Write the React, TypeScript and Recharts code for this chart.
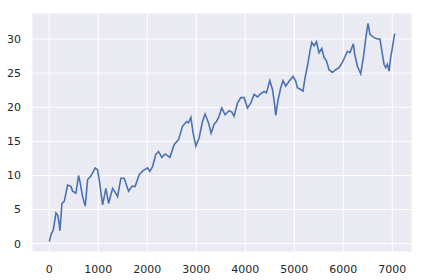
import React from "react";
import { LineChart, Line, XAxis, YAxis, CartesianGrid } from "recharts";

const steps: number[] = [
  0, 35, 82, 137, 171, 200, 218, 259, 306, 375, 442, 477, 544, 599, 632, 680, 734, 783, 850, 938,
  986, 1019, 1089, 1156, 1211, 1293, 1340, 1394, 1462, 1529, 1619, 1686, 1753, 1835, 1916, 2006,
  2053, 2108, 2175, 2230, 2298, 2365, 2461, 2548, 2638, 2720, 2801, 2842, 2889, 2936, 2991, 3058,
  3127, 3180, 3250, 3303, 3364, 3413, 3466, 3521, 3588, 3670, 3725, 3772, 3841, 3908, 3976, 4045,
  4112, 4180, 4249, 4316, 4383, 4432, 4500, 4555, 4595, 4622, 4669, 4724, 4771, 4826, 4893, 4975,
  5030, 5064, 5131, 5178, 5219, 5268, 5315, 5356, 5403, 5452, 5505, 5560, 5607, 5656, 5709, 5778,
  5846, 5913, 5983, 6035, 6084, 6137, 6206, 6233, 6288, 6355, 6410, 6457, 6504, 6544, 6593, 6627,
  6696, 6749, 6798, 6831, 6866, 6900, 6934, 6967, 7001, 7048,
];

const values: number[] = [
  0.3, 1.3, 2.0, 4.5, 4.2, 3.0, 1.9, 5.9, 6.2, 8.6, 8.4, 7.7, 7.4, 10.0, 8.9, 6.9, 5.5, 9.4, 9.9, 11.1,
  10.8, 9.4, 5.7, 8.1, 5.9, 8.1, 7.6, 6.9, 9.6, 9.6, 7.7, 8.4, 8.4, 10.1, 10.7, 11.1,
  10.6, 11.3, 13.1, 13.5, 12.65, 13.15, 12.65, 14.5, 15.25, 17.2, 17.9, 17.7, 18.5, 16.2, 14.3, 15.5,
  17.9, 19.0, 17.7, 16.2, 17.5, 17.9, 18.7, 19.9, 18.9, 19.5, 19.3, 18.7, 20.6, 21.4, 21.4, 19.9,
  20.6, 21.9, 21.5, 22.0, 22.3, 22.1, 23.9, 22.6, 20.6, 18.8, 21.1, 22.85, 23.9, 23.1, 23.8, 24.5,
  23.8, 22.85, 22.6, 22.35, 24.3, 26.0, 28.0, 29.5, 29.0, 29.6, 28.0, 28.6, 27.3, 26.8, 25.5, 25.1,
  25.5, 25.8, 26.6, 27.4, 28.2, 28.0, 29.3, 27.75, 26.0, 24.9, 27.3, 30.0, 32.3, 30.7, 30.4, 30.2,
  30.0, 30.0, 27.75, 26.3, 25.8, 26.3, 25.3, 27.3, 28.7, 30.8,
];

const xTicks: number[] = [0, 1000, 2000, 3000, 4000, 5000, 6000, 7000];
const yTicks: number[] = [0, 5, 10, 15, 20, 25, 30];

const data = steps.map((s, i) => ({ s, v: values[i] }));

const tickStyle = { fill: "#262626", fontSize: 11, fontFamily: "DejaVu Sans" };

export default function App() {
  return (
    <div style={{ position: "absolute", left: 0, top: 0 }}>
      <LineChart width={424} height={280} data={data} margin={{ top: 13, right: 12, bottom: 0, left: 0 }}>
        <CartesianGrid fill="#EAEAF2" stroke="#FFFFFF" strokeWidth={1} />
        <XAxis
          dataKey="s"
          type="number"
          domain={[-352, 7402]}
          ticks={xTicks}
          axisLine={false}
          tickLine={false}
          tickMargin={7}
          height={28}
          tick={tickStyle}
          allowDataOverflow
        />
        <YAxis
          type="number"
          domain={[-1.22, 33.81]}
          ticks={yTicks}
          axisLine={false}
          tickLine={false}
          tickMargin={5}
          width={32}
          tick={tickStyle}
          allowDataOverflow
        />
        <Line
          dataKey="v"
          type="linear"
          stroke="#4C72B0"
          strokeWidth={1.6}
          dot={false}
          isAnimationActive={false}
        />
      </LineChart>
    </div>
  );
}
